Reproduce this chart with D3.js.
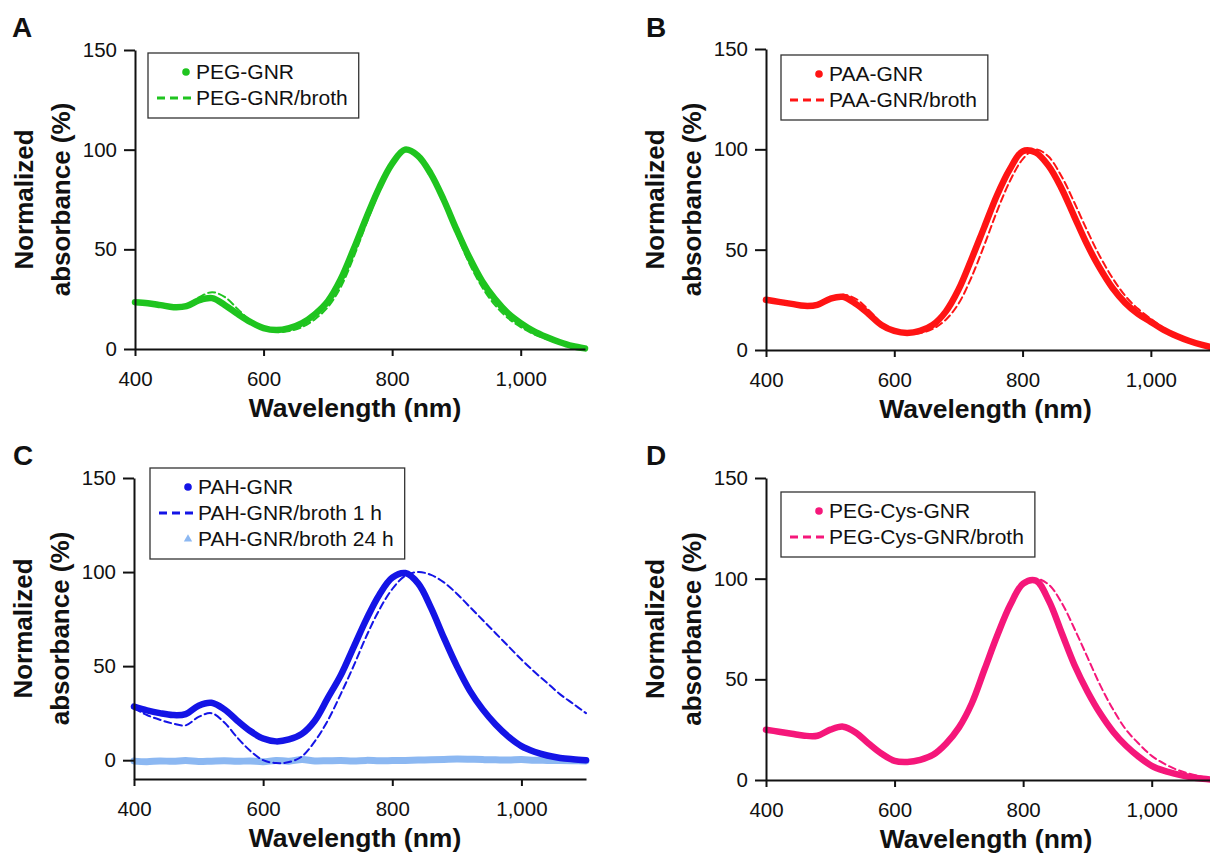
<!DOCTYPE html>
<html>
  <head>
    <meta charset="utf-8">
    <title>Normalized absorbance of GNR</title>
    <script src="https://d3js.org/d3.v7.min.js"></script>
    <style>
      body{
        margin: 0;
        background: #ffffff;
      }
      svg text{
        font-family: Arial, "Liberation Sans", Helvetica, sans-serif;
        fill: #111;
      }
    </style>
  </head>
  <body>
    <div id="container"></div>
    <script>

      // DATA (wavelength in nm, normalized absorbance in %)
      const wavelengths = [400, 420, 440, 460, 480, 500, 520, 540, 560, 580, 600, 620, 640, 660, 680, 700,
        720, 740, 760, 780, 800, 820, 840, 860, 880, 900, 920, 940, 960, 980, 1000, 1020, 1040, 1060, 1080, 1100];

      const pegGnr = [23.5, 23, 22, 21, 21.5, 24.5, 25.5, 22, 17.5, 13.5, 10.5, 9.5, 10.5, 13, 17.5, 24,
        35, 50, 66, 81, 93, 100, 97, 88, 75, 60, 46, 34, 25, 18, 13, 9, 6, 3.5, 1.5, 0.3];
      const pegGnrBroth = [23.5, 23, 22, 21, 22, 26, 28.5, 26, 20, 14, 10, 8.5, 9, 11, 15, 21,
        31, 46, 63, 79, 92, 99.5, 97.5, 88, 74, 58, 43, 31, 22, 15.5, 11, 7.5, 5, 3, 1.5, 0.3];

      const paaGnr = [25, 24, 23, 22, 22.5, 25.5, 26.5, 23, 18, 12.5, 9.5, 8.5, 9.5, 12.5, 19, 30,
        45, 61, 77, 90, 99, 98.5, 92, 81, 67, 53, 41, 31, 23.5, 18, 14, 10, 7, 4.5, 2.5, 1];
      const paaGnrBroth = [25, 24, 23, 22, 22.5, 25, 27.5, 25.5, 20, 13.5, 9.5, 8, 8.5, 10.5, 15, 23,
        36, 52, 69, 84, 95, 100, 96.5, 87, 74, 60, 47, 36, 27, 20.5, 15.5, 11, 7.5, 5, 3, 1.5];

      const pahGnr = [28.5, 26.5, 25, 24, 24.5, 29, 30.5, 27, 21, 15.5, 11.5, 10, 11, 14, 21, 33,
        45, 60, 75, 88, 97, 99.5, 94, 81, 65, 50, 37, 27, 19, 12.5, 7.5, 4.5, 2.5, 1.2, 0.5, 0];
      const pahGnrBroth1h = [27.5, 24, 21.5, 19.5, 18.5, 23, 25, 20, 12, 5, 0, -1.5, -1, 2, 10, 21,
        35, 50, 66, 80, 91, 98, 100, 98.5, 94.5, 88.5, 81.5, 74.5, 67.5, 60.5, 53.5, 47, 41, 35, 30, 25];
      const pahGnrBroth24h = [-0.5, -0.8, -0.4, -0.6, -0.2, -0.7, -0.5, -0.3, -0.6, -0.4, -0.8, -0.2, -0.5, 0.3, -0.4, -0.3,
        -0.2, -0.4, -0.1, -0.3, -0.2, -0.1, 0.1, 0.2, 0.4, 0.6, 0.5, 0.3, 0.2, 0.1, 0.3, 0, -0.1, -0.2, -0.3, -0.4];

      const pegCysGnr = [25, 24, 23, 22, 22, 25, 26.5, 23.5, 18, 13, 9.5, 9, 10, 12.5, 18, 26,
        38, 55, 72, 87, 97.5, 99, 89, 73, 57, 44, 33, 24, 17, 11.5, 7, 4.5, 2.8, 1.5, 0.6, 0];
      const pegCysGnrBroth = [25, 24, 23, 22, 22, 25, 26.5, 23.5, 18, 13, 9.5, 9, 10, 12.5, 18, 26,
        37, 53, 70, 86, 97, 100, 97, 88, 75, 61, 47, 35, 25, 18, 12, 8, 5, 3, 1.5, 0.5];

      const xTicks = [400, 600, 800, 1000];
      const yTicks = [0, 50, 100, 150];

      // COLORS
      const green = "#1fc41f", red = "#ff1414", blue = "#1414e6", lightBlue = "#8cb8f2", pink = "#f5177a";

      // PANEL SETUP
      const panels = [
        { letter: "A", letterX: 12, letterY: 37, x0: 135, x1: 585, yTop: 50, yBottom: 349, yMin: 0,
          legendX: 148, legendY: 53,
          series: [
            { name: "PEG-GNR", values: pegGnr, color: green, kind: "solid" },
            { name: "PEG-GNR/broth", values: pegGnrBroth, color: green, kind: "dash" }
          ] },
        { letter: "B", letterX: 646, letterY: 37, x0: 766, x1: 1215, yTop: 49, yBottom: 350, yMin: 0,
          legendX: 781, legendY: 55,
          series: [
            { name: "PAA-GNR", values: paaGnr, color: red, kind: "solid" },
            { name: "PAA-GNR/broth", values: paaGnrBroth, color: red, kind: "dash" }
          ] },
        { letter: "C", letterX: 13, letterY: 465, x0: 134, x1: 586, yTop: 478, yBottom: 779, yMin: -10,
          legendX: 150, legendY: 468,
          series: [
            { name: "PAH-GNR", values: pahGnr, color: blue, kind: "solid" },
            { name: "PAH-GNR/broth 1 h", values: pahGnrBroth1h, color: blue, kind: "dash" },
            { name: "PAH-GNR/broth 24 h", values: pahGnrBroth24h, color: lightBlue, kind: "flat" }
          ] },
        { letter: "D", letterX: 646, letterY: 465, x0: 766, x1: 1216, yTop: 478, yBottom: 780, yMin: 0,
          legendX: 781, legendY: 492,
          series: [
            { name: "PEG-Cys-GNR", values: pegCysGnr, color: pink, kind: "solid" },
            { name: "PEG-Cys-GNR/broth", values: pegCysGnrBroth, color: pink, kind: "dash" }
          ] }
      ];

      // CREATE SVG
      const svg = d3.select("#container")
        .append("svg")
        .attr("width", 1210)
        .attr("height", 854);

      panels.forEach(p => {
        const g = svg.append("g");

        // SCALES
        const x = d3.scaleLinear().domain([400, 1100]).range([p.x0, p.x1]);
        const y = d3.scaleLinear().domain([p.yMin, 150]).range([p.yBottom, p.yTop]);

        // CURVES
        const line = d3.line()
          .x((d, i) => x(wavelengths[i]))
          .y(d => y(d))
          .curve(d3.curveCatmullRom.alpha(0.5));

        // draw flat + solid first, thin dashed on top
        const order = ["flat", "solid", "dash"];
        p.series.slice().sort((a, b) => order.indexOf(a.kind) - order.indexOf(b.kind)).forEach(s => {
          g.append("path")
            .attr("d", line(s.values))
            .attr("fill", "none")
            .attr("stroke", s.color)
            .attr("stroke-width", s.kind === "dash" ? 2 : (s.kind === "flat" ? 7 : 6.5))
            .attr("stroke-linejoin", "round")
            .attr("stroke-linecap", "round")
            .attr("stroke-dasharray", s.kind === "dash" ? "7,4" : null);
        });

        // Y-AXIS
        const yAxis = g.append("g")
          .attr("transform", "translate(" + p.x0 + ",0)")
          .call(d3.axisLeft(y).tickValues(yTicks).tickSize(11).tickSizeOuter(0).tickPadding(7));
        yAxis.selectAll("line, path").attr("stroke", "#111").attr("stroke-width", 2);
        yAxis.selectAll("text").attr("font-size", 20.5).attr("fill", "#111");

        // X-AXIS
        const xAxis = g.append("g")
          .attr("transform", "translate(0," + p.yBottom + ")")
          .call(d3.axisBottom(x).tickValues(xTicks).tickSize(7).tickSizeOuter(0).tickPadding(15).tickFormat(d3.format(",")));
        xAxis.selectAll("line, path").attr("stroke", "#111").attr("stroke-width", 2);
        xAxis.selectAll("text").attr("font-size", 20.5).attr("fill", "#111");

        // AXIS TITLES
        g.append("text")
          .attr("x", (p.x0 + p.x1) / 2 - 5)
          .attr("y", p.yBottom + 68)
          .attr("text-anchor", "middle")
          .attr("font-size", 26.5)
          .attr("font-weight", "bold")
          .text("Wavelength (nm)");

        const cy = (p.yTop + p.yBottom) / 2;
        [["Normalized", 102], ["absorbance (%)", 65]].forEach(([t, off]) => {
          g.append("text")
            .attr("transform", "translate(" + (p.x0 - off) + "," + cy + ") rotate(-90)")
            .attr("text-anchor", "middle")
            .attr("font-size", 26)
            .attr("font-weight", "bold")
            .text(t);
        });

        // PANEL LETTER
        g.append("text")
          .attr("x", p.letterX)
          .attr("y", p.letterY)
          .attr("font-size", 28)
          .attr("font-weight", "bold")
          .text(p.letter);

        // LEGEND
        const lg = g.append("g").attr("transform", "translate(" + p.legendX + "," + p.legendY + ")");
        const box = lg.append("rect")
          .attr("fill", "#fff")
          .attr("stroke", "#333")
          .attr("stroke-width", 1.3);
        let maxLen = 0;
        p.series.forEach((s, i) => {
          const rowY = 26 + i * 26;
          const mid = rowY - 7;
          if (s.kind === "solid") {
            lg.append("circle").attr("cx", 38).attr("cy", mid).attr("r", 3.8).attr("fill", s.color);
          } else if (s.kind === "dash") {
            lg.append("line")
              .attr("x1", 9).attr("x2", 43).attr("y1", mid).attr("y2", mid)
              .attr("stroke", s.color).attr("stroke-width", 3)
              .attr("stroke-dasharray", "8,5");
          } else {
            lg.append("path")
              .attr("d", d3.symbol(d3.symbolTriangle, 30)())
              .attr("transform", "translate(38," + mid + ")")
              .attr("fill", s.color);
          }
          const t = lg.append("text")
            .attr("x", 48)
            .attr("y", rowY)
            .attr("font-size", 21)
            .text(s.name);
          maxLen = Math.max(maxLen, t.node().getComputedTextLength());
        });
        box.attr("width", 48 + maxLen + 11).attr("height", p.series.length * 26 + 13);
      });

    </script>
  </body>
</html>
